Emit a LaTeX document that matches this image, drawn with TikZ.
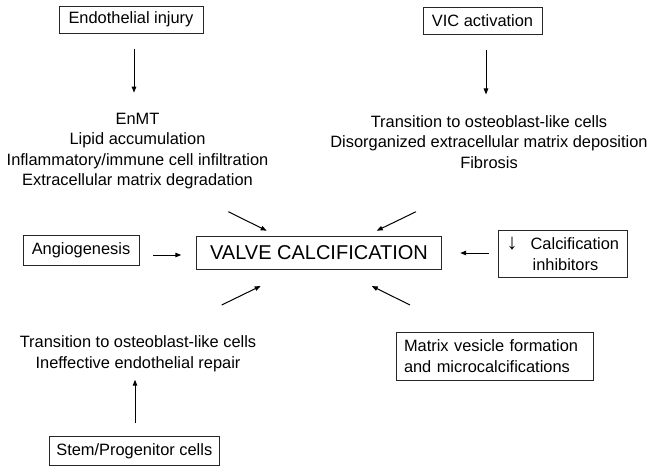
\documentclass[tikz,border=0pt]{standalone}
\usepackage{fontspec}
\setmainfont{Liberation Sans}
\usetikzlibrary{arrows.meta}
\tikzset{
  txt/.style={font=\fontsize{16.4}{20.5}\selectfont, inner sep=0pt, align=center},
  boxed/.style={txt, draw=black!85, line width=0.9pt},
  arr/.style={line width=1pt, -{Triangle[length=6pt,width=4.5pt]}},
}
\begin{document}
\begin{tikzpicture}[x=1pt,y=-1pt]
\useasboundingbox (0,0) rectangle (655,469);
% boxes
\node[boxed, minimum width=144pt, minimum height=27pt] (inj) at (131,19.7) {Endothelial injury};
\node[boxed, minimum width=119pt, minimum height=27pt] (vic) at (482.5,20.5) {VIC activation};
\node[boxed, minimum width=116pt, minimum height=30pt] (ang) at (81,250) {Angiogenesis};
\node[boxed, font=\fontsize{20}{24}\selectfont, minimum width=244.5pt, minimum height=33pt] (valve) at (319,252.5) {VALVE CALCIFICATION};
\node[boxed, align=left, text width=112.7pt, inner xsep=8pt, minimum height=47.7pt] (inh) at (563,254)
  {\makebox[24pt][l]{\fontsize{22}{20}\selectfont ↓}Calcification\\\hspace*{26pt}inhibitors};
\node[boxed, align=left, text width=181pt, inner xsep=8pt, minimum height=48pt] (mv) at (494.5,356)
  {Matrix vesicle formation\\and microcalcifications};
\node[boxed, minimum width=170pt, minimum height=28.3pt] (stem) at (134.3,451) {Stem/Progenitor cells};
% text blocks
\node[txt] (ltext) at (137.5,151) {EnMT\\Lipid accumulation\\Inflammatory/immune cell infiltration\\Extracellular matrix degradation};
\node[txt] (rtext) at (489,142) {Transition to osteoblast-like cells\\Disorganized extracellular matrix deposition\\Fibrosis};
\node[txt] (btext) at (138,354) {Transition to osteoblast-like cells\\Ineffective endothelial repair};
% arrows
\draw[arr] ([shift={(3,15)}]inj.south) -- ++(0,44);
\draw[arr] ([shift={(3.5,16)}]vic.south) -- ++(0,44);
\draw[arr] ([shift={(0.7,-13.4)}]stem.north) -- ++(0,-43.3);
\draw[arr] ([shift={(14,5)}]ang.east) -- ([shift={(-15,2.5)}]valve.west);
\draw[arr] ([shift={(-9,-1)}]inh.west) -- ([shift={(18.5,0.5)}]valve.east);
\draw[arr] ([shift={(-90.7,-40.8)}]valve.center) -- ([shift={(-52.3,-21.8)}]valve.center);
\draw[arr] ([shift={(97,-40.8)}]valve.center) -- ([shift={(57.7,-21.8)}]valve.center);
\draw[arr] ([shift={(-97.3,52.5)}]valve.center) -- ([shift={(-58.3,33.5)}]valve.center);
\draw[arr] ([shift={(91,52.5)}]valve.center) -- ([shift={(52.7,33.5)}]valve.center);
\end{tikzpicture}
\end{document}
